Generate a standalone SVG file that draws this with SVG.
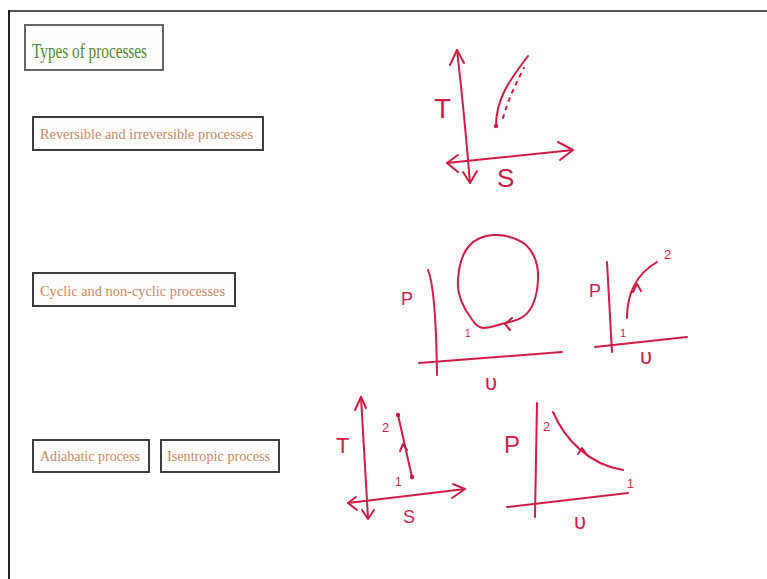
<svg xmlns="http://www.w3.org/2000/svg" width="767" height="579" viewBox="0 0 767 579">
<style>
.box{fill:#fffdfb;stroke:#3d3d3d;stroke-width:2}
.lbl{font-family:"Liberation Serif",serif;fill:#c98a66}
.ink{fill:none;stroke:#cf1d45;stroke-width:2;stroke-linecap:round;stroke-linejoin:round}
.hand{font-family:"Liberation Sans",sans-serif;fill:#cf1d45}
</style>
<rect width="767" height="579" fill="#ffffff"/>
<g id="frame">
<line x1="9" y1="11" x2="767" y2="11" stroke="#555" stroke-width="2"/>
<line x1="9" y1="10" x2="9" y2="579" stroke="#222" stroke-width="2"/>
</g>
<g id="title">
<rect class="box" x="25" y="25" width="138" height="45" style="stroke:#666"/>
<text x="32" y="58" font-family="Liberation Serif,serif" font-size="20" fill="#4a8a35" textLength="115" lengthAdjust="spacingAndGlyphs">Types of processes</text>
</g>
<g id="reversible">
<rect class="box" x="33" y="117" width="230" height="33"/>
<text class="lbl" x="40" y="139" font-size="15" textLength="213" lengthAdjust="spacingAndGlyphs">Reversible and irreversible processes</text>
</g>
<g id="cyclic">
<rect class="box" x="33" y="273" width="202" height="33"/>
<text class="lbl" x="40" y="296" font-size="15" textLength="185" lengthAdjust="spacingAndGlyphs">Cyclic and non-cyclic processes</text>
</g>
<g id="adiabatic">
<rect class="box" x="33" y="440" width="116" height="32"/>
<text class="lbl" x="40" y="461" font-size="15" textLength="100" lengthAdjust="spacingAndGlyphs">Adiabatic process</text>
</g>
<g id="isentropic">
<rect class="box" x="161" y="440" width="118" height="32"/>
<text class="lbl" x="167" y="461" font-size="15" textLength="103" lengthAdjust="spacingAndGlyphs">Isentropic process</text>
</g>
<g id="sketch-ts-reversible">
<path class="ink" d="M457,50 Q464,110 470,183"/>
<path class="ink" d="M450,65 L457,50 L464,63"/>
<path class="ink" d="M463,172 L470,183 L477,171"/>
<path class="ink" d="M447,163 L573,150"/>
<path class="ink" d="M558,142 L573,150 L560,160"/>
<path class="ink" d="M458,155 L447,163 L458,172"/>
<path class="ink" d="M496,126 C496,100 508,82 528,56"/>
<path class="ink" d="M503,118 C508,100 515,85 524,68" stroke-width="1.5" stroke-dasharray="3 6"/>
<circle cx="496" cy="126" r="2.2" fill="#cf1d45"/>
<text class="hand" x="434" y="118" font-size="28">T</text>
<text class="hand" x="497" y="187" font-size="26">S</text>
</g>
<g id="sketch-pv-cycle">
<path class="ink" d="M428,270 Q436,290 437,375"/>
<path class="ink" d="M419,363 L562,352"/>
<path class="ink" d="M483,328 C476,327 474,322 471,318 C462,306 457,292 458,280 C459,262 464,246 478,239 C490,233 505,234 518,240 C532,246 539,262 538,280 C537,298 532,310 524,316 C516,322 507,322 498,325 C492,327 488,328 483,328 Z"/>
<path class="ink" d="M512,318 L505,324 L510,330"/>
<text class="hand" x="401" y="305" font-size="18">P</text>
<text class="hand" x="465" y="337" font-size="10">1</text>
<text class="hand" x="485" y="390" font-size="22">υ</text>
</g>
<g id="sketch-pv-noncyclic">
<path class="ink" d="M607,262 L612,352"/>
<path class="ink" d="M595,347 L687,337"/>
<path class="ink" d="M627,318 C627,290 640,272 657,262"/>
<path class="ink" d="M633,292 L637,284 L641,291"/>
<text class="hand" x="589" y="297" font-size="18">P</text>
<text class="hand" x="664" y="259" font-size="13">2</text>
<text class="hand" x="620" y="337" font-size="11">1</text>
<text class="hand" x="640" y="364" font-size="22">υ</text>
</g>
<g id="sketch-ts-adiabatic">
<path class="ink" d="M361,397 L368,518"/>
<path class="ink" d="M355,410 L361,397 L366,408"/>
<path class="ink" d="M362,510 L368,519 L374,510"/>
<path class="ink" d="M348,503 L465,489"/>
<path class="ink" d="M453,484 L465,489 L452,498"/>
<path class="ink" d="M356,497 L348,503 L357,510"/>
<path class="ink" d="M398,415 L412,477"/>
<path class="ink" d="M400,451 L403,444 L407,450"/>
<circle cx="398" cy="415" r="2.2" fill="#cf1d45"/>
<circle cx="412" cy="477" r="2.2" fill="#cf1d45"/>
<text class="hand" x="336" y="453" font-size="22">T</text>
<text class="hand" x="403" y="523" font-size="18">S</text>
<text class="hand" x="382" y="432" font-size="13">2</text>
<text class="hand" x="395" y="486" font-size="12">1</text>
</g>
<g id="sketch-pv-isentropic">
<path class="ink" d="M537,403 L535,517"/>
<path class="ink" d="M507,507 L628,493"/>
<path class="ink" d="M553,412 C565,440 590,465 623,470"/>
<path class="ink" d="M578,454 L582,448 L587,455" stroke-width="2.5"/>
<text class="hand" x="504" y="453" font-size="24">P</text>
<text class="hand" x="543" y="431" font-size="13">2</text>
<text class="hand" x="627" y="488" font-size="12">1</text>
<text class="hand" x="574" y="529" font-size="22">υ</text>
</g>
</svg>
